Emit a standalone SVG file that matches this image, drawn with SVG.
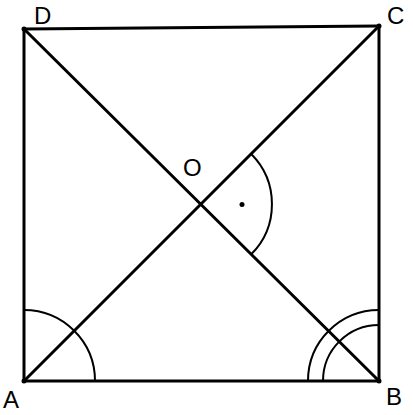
<svg xmlns="http://www.w3.org/2000/svg" width="413" height="415" viewBox="0 0 413 415">
<style>
.edge{stroke:#000;stroke-width:3;fill:none;stroke-linecap:round}
.arc{stroke:#000;stroke-width:2;fill:none}
.lbl{font-family:"Liberation Sans",Arial,sans-serif;font-size:24px;fill:#000}
.pt{fill:#000}
</style>
<rect width="413" height="415" fill="#fff"/>
<g id="connectors">
<line class="edge" x1="24" y1="381" x2="379" y2="381"/>
<line class="edge" x1="379" y1="381" x2="379" y2="26"/>
<line class="edge" x1="379" y1="26" x2="24" y2="29"/>
<line class="edge" x1="24" y1="29" x2="24" y2="381"/>
<line class="edge" x1="24" y1="381" x2="379" y2="26"/>
<line class="edge" x1="379" y1="381" x2="24" y2="29"/>
</g>
<g id="angles">
<path class="arc" d="M24,310 A71,71 0 0 1 95,381"/>
<path class="arc" d="M379,310 A71,71 0 0 0 308,381"/>
<path class="arc" d="M379,325 A56,56 0 0 0 323,381"/>
<path class="arc" d="M251.2,154 A71,71 0 0 1 251.2,254.3"/>
<circle class="pt" cx="242" cy="204.5" r="2.5"/>
</g>
<g id="A"><circle class="pt" cx="24" cy="381" r="2.5"/><text class="lbl" x="3" y="408">A</text></g>
<g id="B"><circle class="pt" cx="379" cy="381" r="2.5"/><text class="lbl" x="386" y="405">B</text></g>
<g id="C"><circle class="pt" cx="379" cy="26" r="2.5"/><text class="lbl" x="387" y="24">C</text></g>
<g id="D"><circle class="pt" cx="24" cy="29" r="2.5"/><text class="lbl" x="34" y="24">D</text></g>
<g id="O"><text class="lbl" x="183" y="176">O</text></g>
</svg>
